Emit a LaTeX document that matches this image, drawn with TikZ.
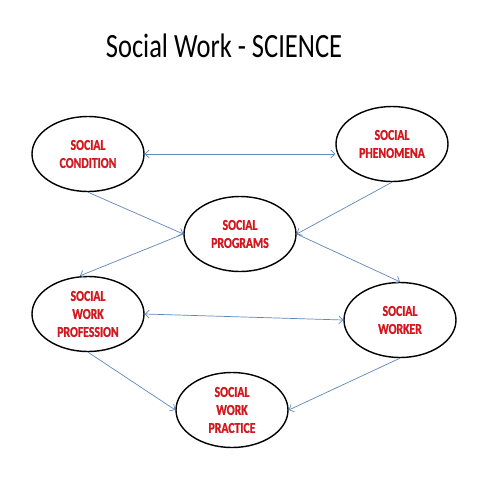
\documentclass[tikz,border=0pt]{standalone}
\usepackage{fontspec}
\setmainfont{Carlito}
\newfontfamily\titlefont[FakeStretch=0.78]{Carlito}
\newfontfamily\ovalfont[FakeStretch=0.78,FakeBold=1.2]{Carlito Bold}
\usetikzlibrary{shapes.geometric,arrows.meta}
\definecolor{ovalred}{RGB}{210,24,30}
\definecolor{linkblue}{RGB}{95,135,190}
\tikzset{
	oval/.style={draw=black,line width=1.4pt,ellipse,inner sep=0pt,minimum width=112pt,minimum height=75pt,align=center,text=ovalred,font=\ovalfont\fontsize{15}{18}\selectfont},
	link/.style={draw=linkblue,line width=0.7pt,-{Straight Barb[length=4pt,width=8pt]}},
	twolink/.style={link,{Straight Barb[length=4pt,width=8pt]}-{Straight Barb[length=4pt,width=8pt]}}
}

\begin{document}
\begin{tikzpicture}[x=1pt,y=-1pt]
			\useasboundingbox[fill=white] (0,0) rectangle (480,480);
			
			% Title
			\node (title) at (224,46) {\titlefont\fontsize{34}{36}\selectfont Social Work - SCIENCE};
			
			% Nodes
			\node[oval] (cond) at (88,154) {SOCIAL\\CONDITION};
			\node[oval] (phen) at (392,144) {SOCIAL\\PHENOMENA};
			\node[oval] (prog) at (240,234) {SOCIAL\\PROGRAMS};
			\node[oval] (prof) at (88,314) {SOCIAL\\WORK\\PROFESSION};
			\node[oval] (worker) at (400,320) {SOCIAL\\WORKER};
			\node[oval] (pract) at (232,410) {SOCIAL\\WORK\\PRACTICE};
			
			% Links
			\draw[twolink] (cond.east) -- (cond.east -| phen.west);
			\draw[link] (cond.south) -- (prog.west);
			\draw[link] (phen.south) -- (prog.east);
			\draw[link] (prog.west) -- ([xshift=-8pt]prof.north);
			\draw[link] (prog.east) -- (worker.north);
			\draw[twolink] (prof.east) -- (worker.west);
			\draw[link] (prof.south) -- (pract.west);
			\draw[link] (worker.south) -- (pract.east);
			
		\end{tikzpicture}
\end{document}
